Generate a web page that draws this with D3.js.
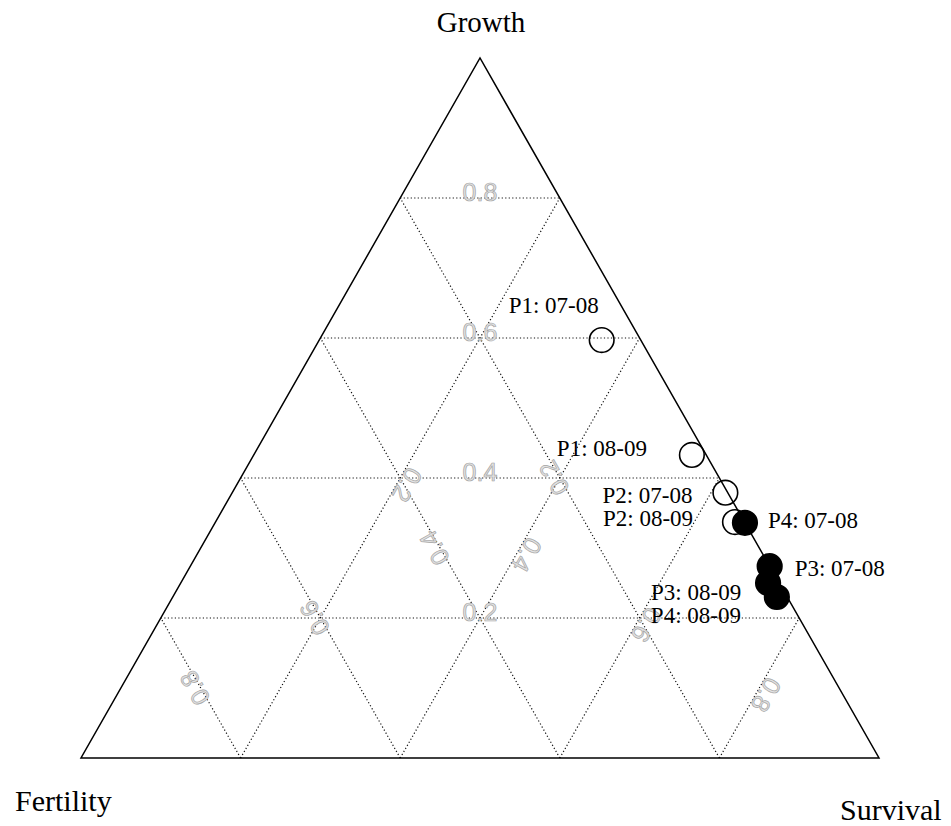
<!DOCTYPE html>
<html>
<head>
<meta charset="utf-8">
<script src="https://cdn.jsdelivr.net/npm/d3@7"></script>
<style>
  html, body { margin: 0; padding: 0; background: #fff; }
  svg { display: block; }
</style>
</head>
<body>
<svg id="chart" width="951" height="826"></svg>
<script>
// Vertex names of the ternary diagram
const vertexNames = ["Fertility", "Survival", "Growth"];

// Population / transition period for each point
const sites = ["P1", "P1", "P2", "P2", "P3", "P3", "P4", "P4"];
const periods = ["07-08", "08-09", "07-08", "08-09", "07-08", "08-09", "07-08", "08-09"];

// Elasticity shares (each row sums to 1)
const growth    = [0.597, 0.433, 0.379, 0.337, 0.274, 0.250, 0.336, 0.230];
const fertility = [0.049, 0.018, 0.003, 0.012, 0.000, 0.014, 0.000, 0.013];
const survival  = [0.354, 0.549, 0.618, 0.651, 0.726, 0.736, 0.664, 0.757];

// Open symbols for P1/P2, filled for P3/P4
const filledSites = ["P3", "P4"];

// Grid levels and their tick labels
const gridLevels = [0.2, 0.4, 0.6, 0.8];
const gridLabels = ["0.2", "0.4", "0.6", "0.8"];

// Label placement relative to each point (text start, baseline)
const labelOffsets = [[-93, -27], [-135, 1], [-123, 10], [-132, 4], [25, 10], [-117, 17], [23, 5], [-126, 26]];

const svg = d3.select("#chart");

// Cartesian position inside the triangle: base runs Fertility (0) -> Survival (1), apex at Growth
const x = d3.scaleLinear().domain([0, 1]).range([81, 879]);
const y = d3.scaleLinear().domain([0, 1]).range([758, 58]);

function project(f, s, g) {
  return [x(s + g / 2), y(g)];
}

const corners = {
  F: project(1, 0, 0),
  S: project(0, 1, 0),
  G: project(0, 0, 1)
};

const gridG = svg.append("g");
const dotted = { stroke: "#111", "stroke-width": 1.2, "stroke-dasharray": "1.2,2.3" };

function seg(p, q) {
  const l = gridG.append("line")
    .attr("x1", p[0]).attr("y1", p[1])
    .attr("x2", q[0]).attr("y2", q[1]);
  Object.entries(dotted).forEach(([k, v]) => l.attr(k, v));
}

gridLevels.forEach(i => {
  // constant Fertility
  seg(project(i, 1 - i, 0), project(i, 0, 1 - i));
  // constant Survival
  seg(project(i, 1 - i, 0), project(0, 1 - i, i));
  // constant Growth
  seg(project(1 - i, 0, i), project(0, 1 - i, i));
});

// Grid labels
const labG = svg.append("g")
  .attr("font-family", "'Liberation Sans', Arial, sans-serif")
  .attr("font-size", 25)
  .attr("fill", "#e2e2e2")
  .attr("stroke", "#a4a4a4")
  .attr("stroke-width", 0.7)
  .attr("text-anchor", "middle")
  .attr("dominant-baseline", "central");

// angle of the right edge and left edge in screen space
const angRight = Math.atan2(corners.S[1] - corners.G[1], corners.S[0] - corners.G[0]) * 180 / Math.PI;
const angLeft = Math.atan2(corners.F[1] - corners.G[1], corners.F[0] - corners.G[0]) * 180 / Math.PI;

gridLevels.forEach((i, k) => {
  // Fertility labels at midpoints of constant-Fertility lines
  const pa = project(i, (1 - i) / 2, (1 - i) / 2);
  labG.append("text")
    .attr("transform", `translate(${pa[0] - 6},${pa[1]}) rotate(${angRight - 180})`)
    .text(gridLabels[k]);
  // Survival labels at midpoints of constant-Survival lines
  const sv = 1 - i;
  const pb = project(i / 2, sv, i / 2);
  labG.append("text")
    .attr("transform", `translate(${pb[0] + 7},${pb[1] + 7}) rotate(${angLeft})`)
    .text(gridLabels[gridLevels.indexOf(+sv.toFixed(1))]);
  // Growth labels on the horizontal lines
  const pc = project((1 - i) / 2, (1 - i) / 2, i);
  labG.append("text")
    .attr("x", pc[0])
    .attr("y", pc[1] - 6)
    .text(gridLabels[k]);
});

// Triangle border
svg.append("path")
  .attr("d", d3.line()([corners.F, corners.S, corners.G, corners.F]) + "Z")
  .attr("fill", "none")
  .attr("stroke", "#000")
  .attr("stroke-width", 1.5)
  .attr("stroke-linejoin", "miter");

// Vertex names
const serif = "'Liberation Serif', 'Times New Roman', serif";
svg.append("text").attr("x", 481).attr("y", 32)
  .attr("text-anchor", "middle").attr("font-family", serif).attr("font-size", 29)
  .text(vertexNames[2]);
svg.append("text").attr("x", 15).attr("y", 811)
  .attr("font-family", serif).attr("font-size", 30)
  .text(vertexNames[0]);
svg.append("text").attr("x", 840).attr("y", 820)
  .attr("font-family", serif).attr("font-size", 30)
  .text(vertexNames[1]);

// Points
const data = sites.map((s, k) => ({
  site: s, period: periods[k],
  pos: project(fertility[k], survival[k], growth[k]),
  filled: filledSites.includes(s),
  off: labelOffsets[k]
}));

const ptG = svg.append("g");
ptG.selectAll("circle")
  .data(data.filter(d => !d.filled).concat(data.filter(d => d.filled)))
  .join("circle")
  .attr("cx", d => d.pos[0])
  .attr("cy", d => d.pos[1])
  .attr("r", 12.3)
  .attr("fill", d => d.filled ? "#000" : "none")
  .attr("stroke", "#000")
  .attr("stroke-width", 1.6);

svg.append("g")
  .attr("font-family", serif)
  .attr("font-size", 23)
  .selectAll("text")
  .data(data)
  .join("text")
  .attr("x", d => d.pos[0] + d.off[0])
  .attr("y", d => d.pos[1] + d.off[1])
  .text(d => `${d.site}: ${d.period}`);
</script>
</body>
</html>
